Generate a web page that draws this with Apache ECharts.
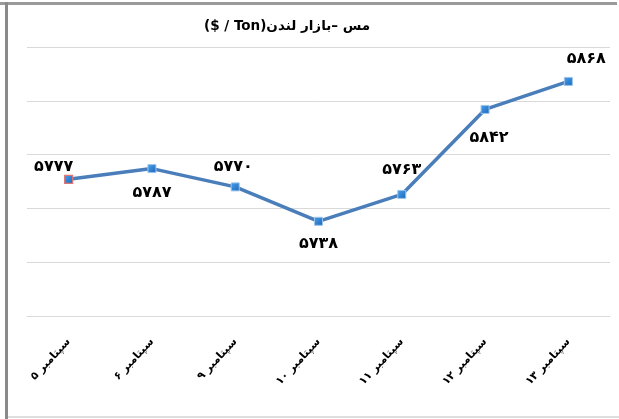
<!DOCTYPE html>
<html><head><meta charset="utf-8">
<script src="https://cdn.jsdelivr.net/npm/echarts@6/dist/echarts.min.js"></script>
<style>html,body{margin:0;padding:0;background:#fff}#c{width:619px;height:419px}</style>
</head><body><div id="c"></div>
<script>
const titleText = "\u202Bمس –بازار لندن(Ton / $)\u202C";
const categories = ["سپتامبر ۵","سپتامبر ۶","سپتامبر ۹","سپتامبر ۱۰","سپتامبر ۱۱","سپتامبر ۱۲","سپتامبر ۱۳"];
const values = [5777, 5787, 5770, 5738, 5763, 5842, 5868];
const valueLabels = ["۵۷۷۷","۵۷۸۷","۵۷۷۰","۵۷۳۸","۵۷۶۳","۵۸۴۲","۵۸۶۸"];
const yMin = 5650, yMax = 5900, yStep = 50;

// label placement per point (style, not data)
const labelPlace = [
  {position:'top', distance:0, offset:[-15,0]},
  {position:'bottom', distance:12, offset:[0,0]},
  {position:'top', distance:8, offset:[-2,0]},
  {position:'bottom', distance:10, offset:[0,0]},
  {position:'top', distance:12, offset:[0,0]},
  {position:'bottom', distance:16, offset:[4,0]},
  {position:'top', distance:10, offset:[18,0]}
];

const font = "'DejaVu Sans', 'Noto Sans', sans-serif";
const chart = echarts.init(document.getElementById('c'), null, {renderer:'canvas'});
const seriesData = values.map((v,i)=>({
  value: v,
  itemStyle: i===0 ? {borderColor:'#d77', borderWidth:1.2} : undefined,
  label: Object.assign({show:true, formatter: valueLabels[i]}, labelPlace[i])
}));
chart.setOption({
  animation:false,
  backgroundColor:'#fff',
  title:{text:titleText, left:199, top:14, textStyle:{fontFamily:font, fontWeight:'bold', fontSize:13.5, color:'#000'}},
  grid:{left:27, right:9, top:47, bottom:103, containLabel:false},
  xAxis:{type:'category', data:categories, boundaryGap:true,
    axisLine:{show:true, lineStyle:{color:'#d9d9d9'}}, axisTick:{show:false},
    axisLabel:{rotate:47, interval:0, fontFamily:font, fontWeight:'bold', fontSize:11, color:'#000', margin:24}},
  yAxis:{type:'value', min:yMin, max:yMax, interval:yStep,
    axisLabel:{show:false}, axisLine:{show:false}, axisTick:{show:false},
    splitLine:{lineStyle:{color:'#d9d9d9', width:1}}},
  series:[{type:'line', data:seriesData, symbol:'rect', symbolSize:8,
    lineStyle:{color:'#4a7ebb', width:3.5},
    itemStyle:{color:new echarts.graphic.LinearGradient(0,0,1,1,[{offset:0,color:'#4aa3ee'},{offset:1,color:'#1b65b8'}]), borderColor:'#9cc3ea', borderWidth:1},
    label:{fontFamily:font, fontWeight:'bold', fontSize:16, color:'#000'}}],
  graphic:[
    {type:'rect', shape:{x:0,y:2,width:617,height:3}, style:{fill:'#9a9a9a'}},
    {type:'rect', shape:{x:5,y:2,width:3,height:417}, style:{fill:'#8a8a8a'}},
    {type:'rect', shape:{x:8,y:416,width:611,height:2}, style:{fill:'#dedede'}}
  ]
});
</script></body></html>
